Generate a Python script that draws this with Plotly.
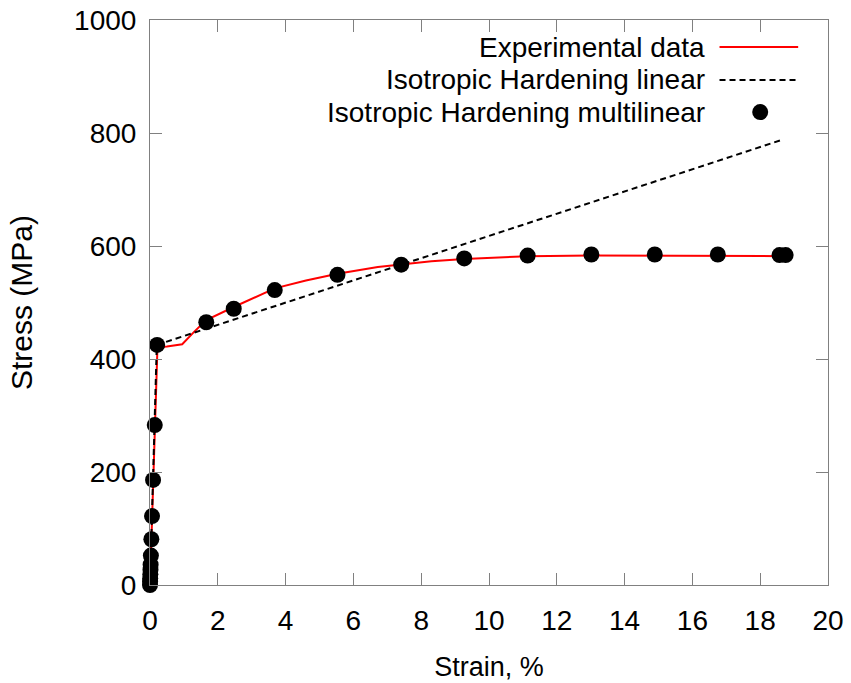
import plotly.graph_objects as go

# Experimental data (strain %, stress MPa)
exp_strain = [0.0, 0.05, 0.1, 0.15, 0.19, 0.22, 0.5, 0.95, 1.3, 1.66, 2.47, 3.68, 4.6,
              5.53, 6.72, 7.41, 8.3, 9.27, 10.2, 11.14, 13.02, 14.89, 16.75, 18.57, 18.75]
exp_stress = [0, 100, 200, 300, 400, 421, 422, 426, 448, 469, 492, 525, 539,
              551, 563, 567, 573, 577, 580, 582, 583, 583, 583, 582, 582]

# Isotropic hardening linear (bilinear)
lin_strain = [0.0, 0.2, 18.6]
lin_stress = [0, 425, 787]

# Isotropic hardening multilinear points
ml_strain = [0.0, 0.003, 0.006, 0.01, 0.014, 0.018, 0.026, 0.04, 0.06, 0.09, 0.14, 0.21,
             1.66, 2.47, 3.68, 5.53, 7.41, 9.27, 11.14, 13.02, 14.89, 16.75, 18.57, 18.75]
ml_stress = [0, 6, 12, 19, 27, 36, 52, 81, 122, 186, 283, 425,
             465, 489, 522, 549, 567, 578, 583, 585, 585, 585, 584, 584]

x_ticks = [0, 2, 4, 6, 8, 10, 12, 14, 16, 18, 20]
y_ticks = [0, 200, 400, 600, 800, 1000]

legend_labels = ["Experimental data", "Isotropic Hardening linear", "Isotropic Hardening multilinear"]

FONT = "Liberation Sans, Arial, sans-serif"

fig = go.Figure()
fig.add_trace(go.Scatter(x=exp_strain, y=exp_stress, mode="lines",
                         line=dict(color="#ff0000", width=2), cliponaxis=False, showlegend=False))
fig.add_trace(go.Scatter(x=lin_strain, y=lin_stress, mode="lines",
                         line=dict(color="black", width=2, dash="6px,4px"), cliponaxis=False, showlegend=False))
fig.add_trace(go.Scatter(x=ml_strain, y=ml_stress, mode="markers",
                         marker=dict(color="black", size=16), cliponaxis=False, showlegend=False))

axis_common = dict(showgrid=False, zeroline=False, showline=True, linecolor="#808080", linewidth=1,
                   mirror="ticks", ticks="inside", ticklen=12, tickcolor="#808080", tickwidth=1,
                   automargin=False,
                   tickfont=dict(family=FONT, size=28, color="black"))

fig.update_xaxes(range=[0, 20], tickvals=x_ticks, ticktext=[str(v) for v in x_ticks],
                 ticklabelstandoff=10,
                 title=dict(text="Strain, %", font=dict(family=FONT, size=27, color="black"), standoff=22),
                 **axis_common)
fig.update_yaxes(range=[0, 1000], tickvals=y_ticks, ticktext=[str(v) for v in y_ticks],
                 ticklabelstandoff=7,
                 title=dict(text="Stress (MPa)", font=dict(family=FONT, size=30, color="black"), standoff=32),
                 **axis_common)

# custom gnuplot-style legend (text right-aligned, sample on the right)
leg_y = [0.952, 0.894, 0.837]
text_x = 0.822
for lbl, yy in zip(legend_labels, leg_y):
    fig.add_annotation(x=text_x, y=yy, xref="paper", yref="paper", text=lbl, showarrow=False,
                       xanchor="right", yanchor="middle", font=dict(family=FONT, size=28, color="black"))
fig.add_shape(type="line", xref="paper", yref="paper", x0=0.840, x1=0.956, y0=leg_y[0], y1=leg_y[0],
              line=dict(color="#ff0000", width=2))
fig.add_shape(type="line", xref="paper", yref="paper", x0=0.840, x1=0.956, y0=leg_y[1], y1=leg_y[1],
              line=dict(color="black", width=2, dash="6px,4px"))
fig.add_shape(type="circle", xref="paper", yref="paper", xsizemode="pixel", ysizemode="pixel",
              xanchor=0.900, yanchor=leg_y[2], x0=-8, x1=8, y0=-8, y1=8,
              fillcolor="black", line=dict(color="black", width=0))

fig.update_layout(width=851, height=683, margin=dict(l=150, r=23, t=20, b=98),
                  paper_bgcolor="white", plot_bgcolor="white",
                  font=dict(family=FONT, color="black"))

fig.write_html("out.html")
